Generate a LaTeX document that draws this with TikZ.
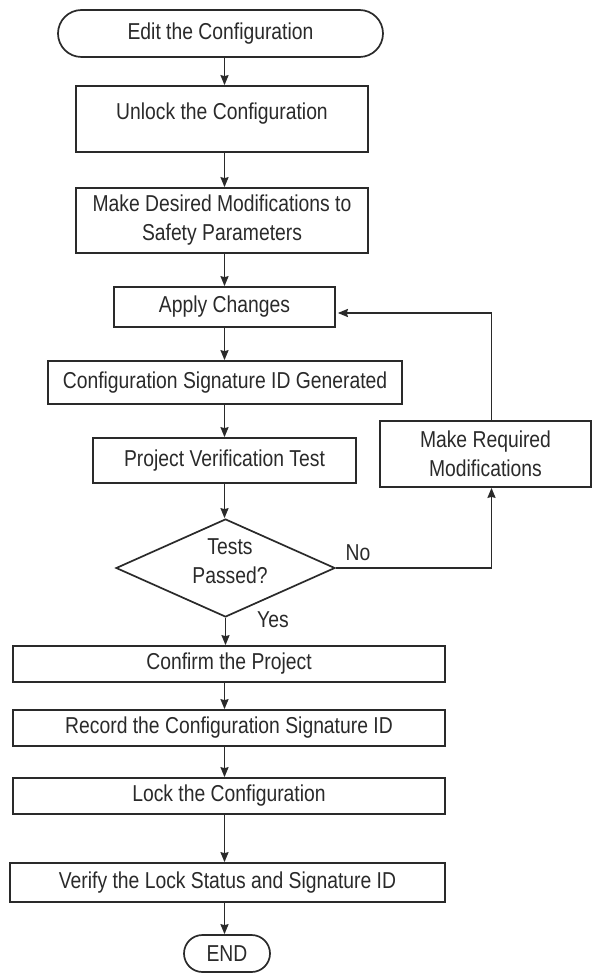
\documentclass[tikz,border=0pt]{standalone}
\usepackage{fontspec}
\setmainfont[FakeStretch=0.84]{Liberation Sans}
\usetikzlibrary{shapes.geometric,shapes.misc,arrows.meta}
\definecolor{ink}{HTML}{2A2A2A}
\begin{document}
\begin{tikzpicture}[x=1pt,y=-1pt,
  every node/.style={font=\fontsize{23}{29}\selectfont, text=ink},
  box/.style={draw=ink, line width=1.7pt, rectangle, inner sep=0pt, align=center},
  term/.style={draw=ink, line width=1.7pt, rounded rectangle, inner sep=0pt},
  dec/.style={draw=ink, line width=1.7pt, diamond, inner sep=0pt, align=center},
  arr/.style={draw=ink, line width=1.7pt, -{Stealth[length=10pt,width=8pt,inset=1pt]}},
  ln/.style={draw=ink, line width=1.7pt}]
\useasboundingbox (0,0) rectangle (591,973);
\fill[white] (0,0) rectangle (591,973);
\coordinate (col) at (224.5,0);
\coordinate (mrx) at (491.5,0);

\node[term, minimum width=325pt, minimum height=47pt] (start) at (220.5,33.5) {Edit the Configuration};
\node[box, minimum width=292pt, minimum height=66pt, text depth=16pt] (unlock) at (222,119) {Unlock the Configuration};
\node[box, minimum width=292pt, minimum height=65pt] (desired) at (222,220.5) {Make Desired Modifications to\\Safety Parameters};
\node[box, minimum width=221pt, minimum height=40pt] (apply) at (224.5,307) {Apply Changes};
\node[box, minimum width=354pt, minimum height=43pt] (sig) at (225,382.5) {Configuration Signature ID Generated};
\node[box, minimum width=263pt, minimum height=45pt] (pvt) at (224.5,460.5) {Project Verification Test};
\node[dec, minimum width=219pt, minimum height=98pt] (dia) at (225.5,568) {};
\node (diatxt) at (230,561) [align=center] {Tests\\Passed?};
\node[box, minimum width=211pt, minimum height=66pt] (mr) at (485.5,454) {Make Required\\Modifications};
\node[box, minimum width=432pt, minimum height=36pt] (confirm) at (229,664) {Confirm the Project};
\node[box, minimum width=432pt, minimum height=36pt] (record) at (229,728) {Record the Configuration Signature ID};
\node[box, minimum width=432pt, minimum height=36pt] (lock) at (229,796) {Lock the Configuration};
\node[box, minimum width=435pt, minimum height=39pt] (verify) at (227.5,882.5) {Verify the Lock Status and Signature ID};
\node[term, minimum width=86pt, minimum height=37pt] (end) at (227,953.5) {END};

\node (nolbl) at (358,553) {No};
\node (yeslbl) at (273,620) {Yes};

\draw[arr] (start.south -| col) -- (unlock.north -| col);
\draw[arr] (unlock.south -| col) -- (desired.north -| col);
\draw[arr] (desired.south -| col) -- (apply.north -| col);
\draw[arr] (apply.south -| col) -- (sig.north -| col);
\draw[arr] (sig.south -| col) -- (pvt.north -| col);
\draw[arr] (pvt.south -| col) -- (dia.north -| col);
\draw[arr] (dia.south) -- (dia.south |- confirm.north);
\draw[arr] (confirm.south -| col) -- (record.north -| col);
\draw[arr] (record.south -| col) -- (lock.north -| col);
\draw[arr] (lock.south -| col) -- (verify.north -| col);
\draw[arr] (verify.south -| col) -- (end.north -| col);
\draw[arr] (dia.east) -| (mr.south -| mrx);
\draw[arr] (mr.north -| mrx) |- ([yshift=-6pt,xshift=2pt]apply.east);
\end{tikzpicture}
\end{document}
